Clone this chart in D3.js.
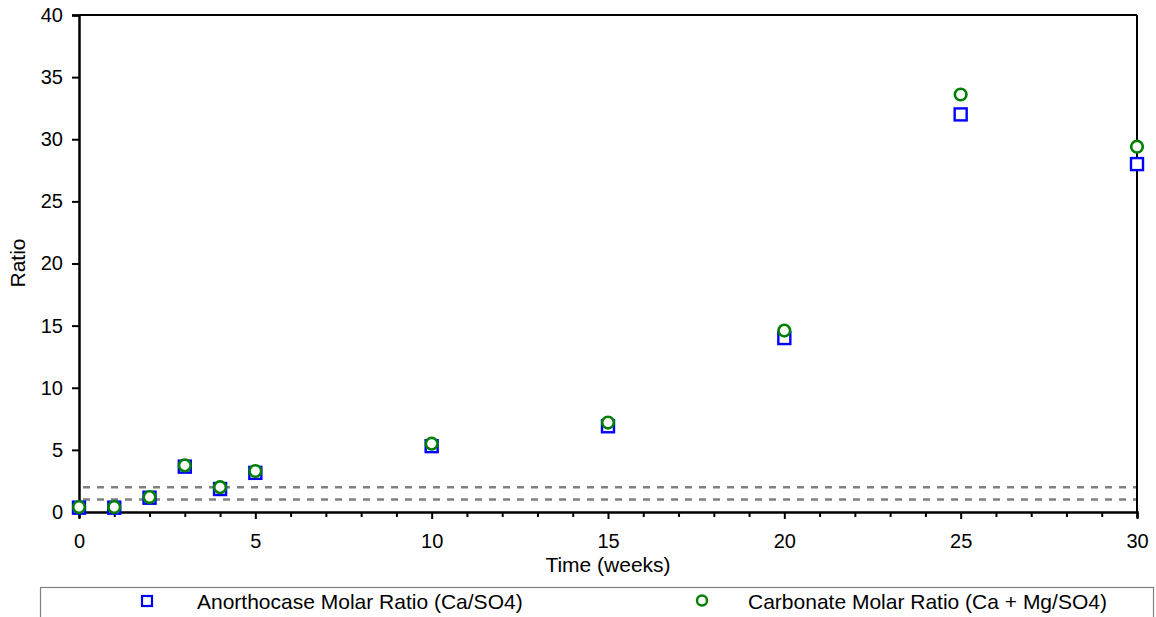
<!DOCTYPE html>
<html>
<head>
<meta charset="utf-8">
<script src="https://cdn.jsdelivr.net/npm/d3@7"></script>
<style>
  html, body { margin: 0; padding: 0; background: #fff; }
  svg { display: block; font-family: "Liberation Sans", Arial, sans-serif; }
</style>
</head>
<body>
<svg id="chart" width="1156" height="617"></svg>
<script>
// Sampling times (weeks)
const weeks = [0, 1, 2, 3, 4, 5, 10, 15, 20, 25, 30];
// Anorthocase molar ratio (Ca/SO4)
const anorthocase = [0.35, 0.35, 1.15, 3.65, 1.85, 3.15, 5.3, 6.9, 14.0, 32.0, 28.0];
// Carbonate molar ratio (Ca + Mg/SO4)
const carbonate = [0.4, 0.4, 1.2, 3.75, 2.0, 3.3, 5.5, 7.2, 14.6, 33.6, 29.4];
// Reference levels drawn as dashed lines
const refLevels = [1, 2];
const xTicks = [0, 5, 10, 15, 20, 25, 30];
const yTicks = [0, 5, 10, 15, 20, 25, 30, 35, 40];
const seriesNames = ["Anorthocase Molar Ratio (Ca/SO4)", "Carbonate Molar Ratio (Ca + Mg/SO4)"];

const svg = d3.select("#chart");
const plotL = 79, plotR = 1137, plotT = 15, plotB = 512;
const tickFont = 20, labelFont = 21;

const x = d3.scaleLinear().domain([0, 30]).range([plotL, plotR]);
const y = d3.scaleLinear().domain([0, 40]).range([plotB, plotT]);

// Dashed reference lines
svg.selectAll("line.ref").data(refLevels).enter().append("line")
  .attr("class", "ref")
  .attr("x1", plotL).attr("x2", plotR)
  .attr("y1", d => y(d)).attr("y2", d => y(d))
  .attr("stroke", "#808080").attr("stroke-width", 2.5)
  .attr("stroke-dasharray", "7,7")
  .attr("stroke-dashoffset", -4);

// Frame: top and right edges
svg.append("line").attr("x1", plotL).attr("x2", plotR).attr("y1", plotT).attr("y2", plotT)
  .attr("stroke", "#000").attr("stroke-width", 2);
svg.append("line").attr("x1", plotR).attr("x2", plotR).attr("y1", plotT).attr("y2", plotB)
  .attr("stroke", "#000").attr("stroke-width", 2);

// X axis: minor ticks every week, labels every 5
const xAxis = d3.axisBottom(x).tickValues(d3.range(0, 31)).tickSize(6)
  .tickFormat(d => xTicks.includes(d) ? d : "");
const gx = svg.append("g").attr("transform", `translate(0,${plotB})`).call(xAxis);
gx.select(".domain").attr("stroke", "#000").attr("stroke-width", 2.5);
gx.selectAll(".tick line").attr("stroke", "#000").attr("stroke-width", 2)
  .attr("y2", d => xTicks.includes(d) ? 7 : 5);
gx.selectAll(".tick text").attr("font-size", tickFont).attr("fill", "#000")
  .attr("y", 36).attr("dy", 0)
  .attr("font-family", "Liberation Sans, Arial, sans-serif");

// Y axis
const yAxis = d3.axisLeft(y).tickValues(yTicks).tickSize(7);
const gy = svg.append("g").attr("transform", `translate(${plotL},0)`).call(yAxis);
gy.select(".domain").attr("stroke", "#000").attr("stroke-width", 2.5);
gy.selectAll(".tick line").attr("stroke", "#000").attr("stroke-width", 2);
gy.selectAll(".tick text").attr("font-size", tickFont).attr("fill", "#000").attr("x", -16)
  .attr("font-family", "Liberation Sans, Arial, sans-serif");

// Axis titles
svg.append("text").attr("x", (plotL + plotR) / 2).attr("y", 572)
  .attr("text-anchor", "middle").attr("font-size", labelFont).text("Time (weeks)");
svg.append("text").attr("transform", "translate(25,263) rotate(-90)")
  .attr("text-anchor", "middle").attr("font-size", labelFont).text("Ratio");

// Anorthocase series: open blue squares
const sq = 12;
svg.selectAll("rect.anor").data(weeks.map((w, i) => [w, anorthocase[i]])).enter().append("rect")
  .attr("class", "anor")
  .attr("x", d => x(d[0]) - sq / 2).attr("y", d => y(d[1]) - sq / 2)
  .attr("width", sq).attr("height", sq)
  .attr("fill", "#fff").attr("stroke", "#0000ff").attr("stroke-width", 2.4);

// Carbonate series: open green circles
svg.selectAll("circle.carb").data(weeks.map((w, i) => [w, carbonate[i]])).enter().append("circle")
  .attr("class", "carb")
  .attr("cx", d => x(d[0])).attr("cy", d => y(d[1])).attr("r", 5.8)
  .attr("fill", "#fff").attr("stroke", "#008000").attr("stroke-width", 2.6);

// Legend
const legend = svg.append("g");
legend.append("rect").attr("x", 40.5).attr("y", 587.5).attr("width", 1113).attr("height", 40)
  .attr("fill", "#fff").attr("stroke", "#808080").attr("stroke-width", 1.2);
legend.append("rect").attr("x", 142).attr("y", 596).attr("width", 10).attr("height", 10)
  .attr("fill", "#fff").attr("stroke", "#0000ff").attr("stroke-width", 2.2);
legend.append("text").attr("x", 197).attr("y", 609).attr("font-size", labelFont).text(seriesNames[0]);
legend.append("circle").attr("cx", 702).attr("cy", 600.5).attr("r", 5)
  .attr("fill", "#fff").attr("stroke", "#008000").attr("stroke-width", 2.4);
legend.append("text").attr("x", 748).attr("y", 609).attr("font-size", labelFont).text(seriesNames[1]);
</script>
</body>
</html>
